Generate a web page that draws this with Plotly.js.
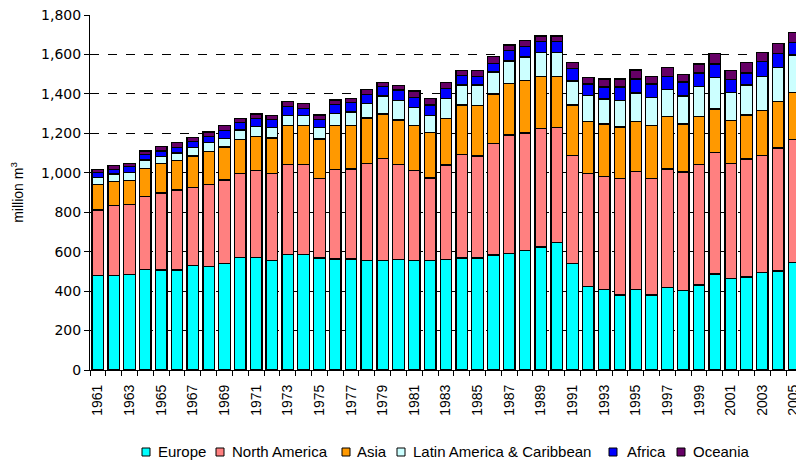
<!DOCTYPE html>
<html>
<head>
<meta charset="utf-8">
<script src="https://cdn.plot.ly/plotly-3.0.1.min.js"></script>
<style>html,body{margin:0;padding:0;background:#fff;}#chart{width:796px;height:463px;}</style>
</head>
<body>
<div id="chart"></div>
<script>
var years = [];
for (var y = 1961; y <= 2005; y++) years.push(y);

var europe = [478,478,485,509,507,507,531,524,541,569,569,554,586,586,568,563,563,554,554,561,554,554,562,568,568,583,590,607,624,645,539,424,409,380,409,380,417,402,431,487,463,472,493,502,546];
var northAmerica = [333,357,355,371,390,406,396,417,422,428,442,443,455,455,404,454,456,494,517,480,457,419,478,525,517,566,601,595,599,585,548,571,571,592,596,592,602,602,610,615,585,598,594,624,624];
var asia = [130,122,122,142,151,150,158,168,168,173,172,179,198,198,199,222,220,230,227,227,228,230,236,251,255,250,261,265,266,259,257,266,267,260,256,267,265,243,243,221,216,223,228,234,238];
var latinAmerica = [36,37,40,43,34,37,43,45,44,47,52,52,50,50,57,62,69,74,91,99,91,88,99,101,105,112,115,120,122,122,121,130,127,135,143,144,137,143,152,159,142,152,174,175,189];
var africa = [23,23,29,27,28,29,32,29,38,37,39,41,48,38,41,46,47,46,47,53,53,53,53,47,44,44,52,52,54,54,64,59,61,68,71,67,68,70,70,69,68,61,76,71,64];
var oceania = [17,19,17,18,22,23,20,24,26,22,24,22,23,25,24,22,21,25,23,23,32,32,29,26,29,34,29,32,28,28,29,34,40,40,46,37,46,39,45,53,46,52,46,50,49];

var seriesNames = ["Europe","North America","Asia","Latin America & Caribbean","Africa","Oceania"];
var seriesValues = [europe, northAmerica, asia, latinAmerica, africa, oceania];
var seriesColors = ["#00FFFF","#FF8080","#FF9900","#CCFFFF","#0000FF","#660066"];

var traces = seriesNames.map(function(name, i){
  return {
    type: 'bar',
    name: name,
    x: years,
    y: seriesValues[i],
    marker: {color: seriesColors[i], line: {color: '#000000', width: 1.3}},
    hoverinfo: 'x+y+name',
    showlegend: false
  };
});

var font = "Liberation Sans, Arial, sans-serif";

// plot area geometry (pixels) used to place the custom legend
var W = 796, H = 463, ML = 90, MR = 0, MT = 15, MB = 93;
var PW = W - ML - MR, PH = H - MT - MB;
function px2x(px){ return (px - ML) / PW; }
function px2y(py){ return (H - MB - py) / PH; }

var legendSymbolLeft = [142, 216, 342, 397, 609, 677];
var legendTextLeft = [156, 230, 355, 411, 625, 691];
var legendCenterY = 452;

var shapes = [], annotations = [];
seriesNames.forEach(function(name, i){
  shapes.push({
    type: 'rect', xref: 'paper', yref: 'paper',
    x0: px2x(legendSymbolLeft[i]), x1: px2x(legendSymbolLeft[i] + 8),
    y0: px2y(legendCenterY + 4), y1: px2y(legendCenterY - 4),
    fillcolor: seriesColors[i], line: {color: '#000000', width: 1}
  });
  annotations.push({
    xref: 'paper', yref: 'paper',
    x: px2x(legendTextLeft[i]), y: px2y(legendCenterY),
    xanchor: 'left', yanchor: 'middle',
    text: name, showarrow: false,
    font: {family: font, size: 15, color: '#000000'}
  });
});

var layout = {
  width: W,
  height: H,
  margin: {l: ML, r: MR, t: MT, b: MB, pad: 0},
  barmode: 'stack',
  bargap: 0.27,
  paper_bgcolor: '#ffffff',
  plot_bgcolor: '#ffffff',
  font: {family: font, size: 13, color: '#000000'},
  showlegend: false,
  shapes: shapes,
  annotations: annotations,
  xaxis: {
    type: 'linear',
    range: [1960.5, 2005.13],
    tick0: 1961,
    dtick: 2,
    tickangle: -90,
    ticks: '',
    tickformat: 'd',
    ticklabeloverflow: 'allow',
    ticklabelstandoff: 8,
    showgrid: false,
    zeroline: false,
    showline: true,
    linecolor: '#000000',
    linewidth: 1,
    automargin: false,
    tickfont: {family: font, size: 14, color: '#000000'},
    minor: {tick0: 1960.5, dtick: 1, ticks: 'outside', ticklen: 5, tickcolor: '#000000', showgrid: false}
  },
  yaxis: {
    range: [0, 1800],
    dtick: 200,
    tick0: 0,
    tickformat: ',d',
    ticks: 'outside',
    ticklen: 5,
    tickcolor: '#000000',
    showline: true,
    linecolor: '#000000',
    linewidth: 1,
    showgrid: true,
    gridcolor: '#000000',
    gridwidth: 1,
    griddash: 'dash',
    zeroline: false,
    automargin: false,
    tickfont: {family: "DejaVu Sans, sans-serif", size: 14, color: '#000000'},
    title: {text: 'million m<sup>3</sup>', font: {family: font, size: 14, color: '#000000'}, standoff: 14}
  }
};

Plotly.newPlot('chart', traces, layout, {displayModeBar: false, staticPlot: true});
</script>
</body>
</html>
